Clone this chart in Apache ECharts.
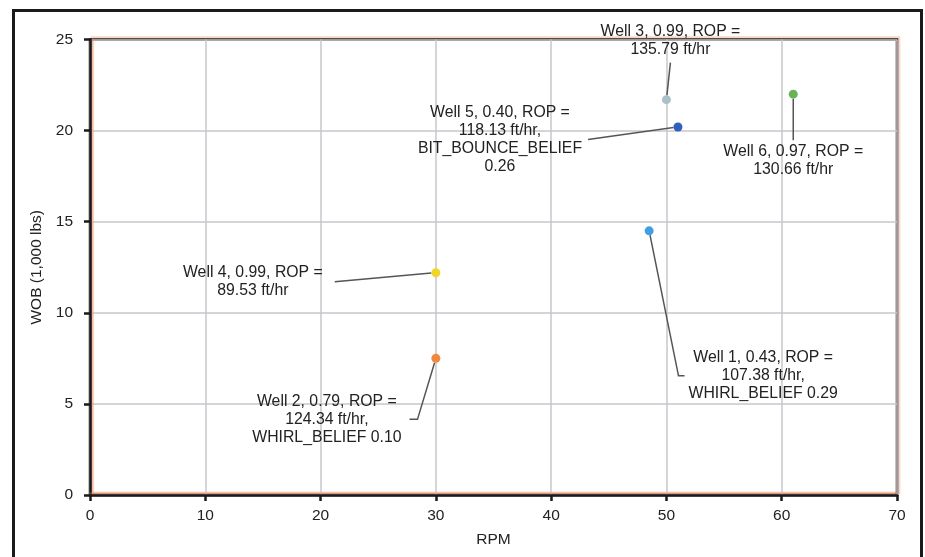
<!DOCTYPE html>
<html>
<head>
<meta charset="utf-8">
<script src="https://cdn.jsdelivr.net/npm/echarts@6/dist/echarts.min.js"></script>
<style>
html,body{margin:0;padding:0;background:#fff;}
#chart{width:925px;height:557px;}
</style>
</head>
<body>
<div id="chart"></div>
<script>
// ---- data ----
const wells = ['Well 1', 'Well 2', 'Well 3', 'Well 4', 'Well 5', 'Well 6'];
const rpm = [48.5, 30, 50, 30, 51, 61];
const wob = [14.5, 7.5, 21.7, 12.2, 20.2, 22.0];
const score = ['0.43', '0.79', '0.99', '0.99', '0.40', '0.97'];
const rop = ['107.38', '124.34', '135.79', '89.53', '118.13', '130.66'];
const extra = ['WHIRL_BELIEF 0.29', 'WHIRL_BELIEF 0.10', '', '', 'BIT_BOUNCE_BELIEF\n0.26', ''];
const xTicks = [0, 10, 20, 30, 40, 50, 60, 70];
const yTicks = [0, 5, 10, 15, 20, 25];

// ---- styling (not data) ----
const colors = ['#3f9fe3', '#f0883e', '#a9c1c9', '#f2d52a', '#2f5fc0', '#6cb255'];
const labelOffset = [[112, 145], [-105, 61], [4, -59], [-177, 9], [-175, 12.5], [0, 66]];
const labelPad = [[0, 0, 0, 4], [0, 8, 0, 0], [0, 0, 8, 0], [0, 12, 0, 0], [0, 6, 0, 0], [4, 0, 0, 0]];
const len2 = [6, 8, 0, 0, 0, 0];

function labelText(i) {
  let t = wells[i] + ', ' + score[i] + ', ROP =\n' + rop[i] + ' ft/hr';
  if (extra[i]) t += ',\n' + extra[i];
  return t;
}

const font = 'Liberation Sans, Arial, Helvetica, sans-serif';
const orange = 'rgba(240,130,80,0.35)';

const data = wells.map((w, i) => ({
  name: w,
  value: [rpm[i], wob[i]],
  itemStyle: { color: colors[i] },
  label: { formatter: labelText(i), padding: labelPad[i] },
  labelLine: { length2: len2[i] }
}));

const chart = echarts.init(document.getElementById('chart'), null, { renderer: 'canvas' });
chart.setOption({
  backgroundColor: '#fff',
  animation: false,
  graphic: [{
    type: 'rect', z: -10,
    shape: { x: 13.5, y: 10.5, width: 908, height: 600 },
    style: { fill: 'none', stroke: '#1a1a1a', lineWidth: 3 }
  }],
  grid: {
    left: 90, top: 39.5, right: 28, bottom: 62,
    show: true, borderColor: '#1a1a1a', borderWidth: 2.5,
    backgroundColor: 'transparent',
    shadowColor: orange, shadowOffsetX: 2, shadowOffsetY: -2, shadowBlur: 1
  },
  xAxis: {
    type: 'value', min: 0, max: 70, interval: 10,
    name: 'RPM', nameLocation: 'middle', nameGap: 37,
    nameTextStyle: { fontFamily: font, fontSize: 15.5, color: '#222' },
    axisLine: { show: true, lineStyle: { color: '#1a1a1a', width: 2.5, shadowColor: orange, shadowOffsetY: -2, shadowBlur: 1 } },
    axisTick: { show: true, length: 6, lineStyle: { color: '#1a1a1a', width: 2.5 } },
    axisLabel: { fontFamily: font, fontSize: 15.5, color: '#222', margin: 13,
      formatter: v => xTicks.includes(v) ? String(v) : '' },
    splitLine: { show: true, lineStyle: { color: '#c6c6cc', width: 1.5 } }
  },
  yAxis: {
    type: 'value', min: 0, max: 25, interval: 5,
    name: 'WOB (1,000 lbs)', nameLocation: 'middle', nameGap: 45,
    nameTextStyle: { fontFamily: font, fontSize: 15.5, color: '#222' },
    axisLine: { show: true, lineStyle: { color: '#1a1a1a', width: 2.5, shadowColor: orange, shadowOffsetX: 2, shadowBlur: 1 } },
    axisTick: { show: true, length: 6, lineStyle: { color: '#1a1a1a', width: 2.5 } },
    axisLabel: { fontFamily: font, fontSize: 15.5, color: '#222', margin: 17,
      formatter: v => yTicks.includes(v) ? String(v) : '' },
    splitLine: { show: true, lineStyle: { color: '#c6c6cc', width: 1.5 } }
  },
  series: [{
    type: 'scatter',
    symbol: 'circle',
    symbolSize: 9,
    data: data,
    itemStyle: { opacity: 1 },
    label: {
      show: true, position: 'inside',
      fontFamily: font, fontSize: 15.8, color: '#222', lineHeight: 18, align: 'center'
    },
    labelLine: { show: true, lineStyle: { color: '#555', width: 1.5 } },
    labelLayout: function (p) {
      const o = labelOffset[p.dataIndex];
      return { dx: o[0], dy: o[1] };
    }
  }]
});
</script>
</body>
</html>
